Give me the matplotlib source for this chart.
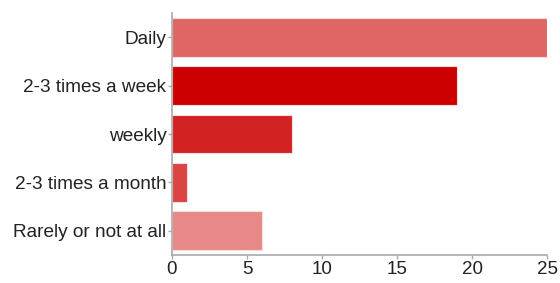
import matplotlib
matplotlib.use("Agg")
import matplotlib.pyplot as plt

categories = ["Daily", "2-3 times a week", "weekly", "2-3 times a month", "Rarely or not at all"]
counts = [25, 19, 8, 1, 6]
colors = ["#E06666", "#CC0000", "#D32222", "#DC4444", "#E88888"]
xticks = [0, 5, 10, 15, 20, 25]

plt.rcParams['font.family'] = ['Liberation Sans', 'DejaVu Sans']

fig = plt.figure(figsize=(5.6, 2.83), dpi=100)
ax = fig.add_axes([0.307, 0.099, 0.670, 0.855])

ax.barh(range(len(categories)), counts, height=0.8, color=colors,
        edgecolor="#f4dede", linewidth=0.8)

ax.set_ylim(len(categories) - 0.5, -0.5)
ax.set_xlim(0, 25)
ax.set_yticks(range(len(categories)))
ax.set_yticklabels(categories, fontsize=13.7, color="#222222")
ax.set_xticks(xticks)
ax.set_xticklabels([str(t) for t in xticks], fontsize=13.5, color="#222222")

for side in ["top", "right"]:
    ax.spines[side].set_visible(False)
for side in ["left", "bottom"]:
    ax.spines[side].set_color("#aaaaaa")
    ax.spines[side].set_linewidth(1.2)
ax.tick_params(axis="both", color="#aaaaaa", length=3, width=1, pad=1)

fig.savefig("out.png", dpi=100)
